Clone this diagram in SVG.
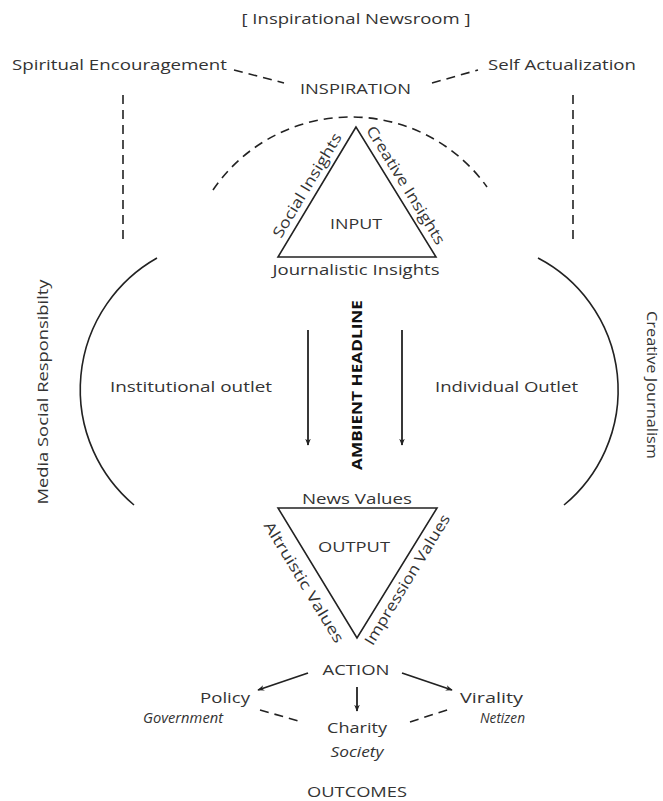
<svg xmlns="http://www.w3.org/2000/svg" width="663" height="801" viewBox="0 0 663 801">
<style>
text{font-family:"Open Sans","Noto Sans","Liberation Sans",sans-serif;fill:#333;font-size:15px}
.m{text-anchor:middle}
.it{font-style:italic}
.b{font-weight:bold;fill:#111}
.ln{stroke:#222;stroke-width:1.6;fill:none}
.dash{stroke:#222;stroke-width:1.6;fill:none;stroke-dasharray:9 6}
.arr{stroke:#222;stroke-width:1.8;fill:none;marker-end:url(#ah)}
</style>
<defs>
<marker id="ah" viewBox="0 0 10 10" refX="9" refY="5" markerWidth="7" markerHeight="7" orient="auto" markerUnits="userSpaceOnUse">
<path d="M0,1 L10,5 L0,9 L3,5 Z" fill="#222"/>
</marker>
</defs>
<rect width="663" height="801" fill="#fff"/>
<g id="title"><text class="m" x="356" y="24" textLength="229" lengthAdjust="spacingAndGlyphs">[ Inspirational Newsroom ]</text></g>
<g id="spiritual"><text x="12" y="70" font-size="17" textLength="215" lengthAdjust="spacingAndGlyphs">Spiritual Encouragement</text></g>
<g id="selfact"><text x="488" y="70" font-size="17" textLength="148" lengthAdjust="spacingAndGlyphs">Self Actualization</text></g>
<g id="inspiration"><text x="300" y="94" font-size="16" textLength="111" lengthAdjust="spacingAndGlyphs">INSPIRATION</text></g>
<g id="input">
<polygon class="ln" points="356,127 278,257 436,257"/>
<text class="m" x="356" y="229" textLength="52" lengthAdjust="spacingAndGlyphs">INPUT</text>
<text class="m" x="356" y="275" textLength="167" lengthAdjust="spacingAndGlyphs">Journalistic Insights</text>
<text class="m" transform="translate(315,190) rotate(-59)" x="0" y="-4" textLength="119" lengthAdjust="spacingAndGlyphs">Social Insights</text>
<text class="m" transform="translate(398,190) rotate(58.4)" x="0" y="-4" textLength="136" lengthAdjust="spacingAndGlyphs">Creative Insights</text>
</g>
<g id="msr"><text class="m" transform="translate(48,392) rotate(-90)" x="0" y="0" font-size="16" textLength="225" lengthAdjust="spacingAndGlyphs">Media Social Responsibilty</text></g>
<g id="cj"><text class="m" transform="translate(647,385) rotate(90)" x="0" y="0" font-size="15" textLength="148" lengthAdjust="spacingAndGlyphs">Creative Journalism</text></g>
<g id="institutional"><text x="110" y="392" textLength="162" lengthAdjust="spacingAndGlyphs">Institutional outlet</text></g>
<g id="individual"><text x="435" y="392" textLength="143" lengthAdjust="spacingAndGlyphs">Individual Outlet</text></g>
<g id="ambient"><text class="m b" transform="translate(362,385) rotate(-90)" x="0" y="0" textLength="170" lengthAdjust="spacingAndGlyphs">AMBIENT HEADLINE</text></g>
<g id="output">
<polygon class="ln" points="278,508 437,508 357,638"/>
<text class="m" x="357" y="504" textLength="110" lengthAdjust="spacingAndGlyphs">News Values</text>
<text class="m" x="354" y="552" textLength="72" lengthAdjust="spacingAndGlyphs">OUTPUT</text>
<text class="m" transform="translate(314,576) rotate(58.7)" x="0" y="17" textLength="139" lengthAdjust="spacingAndGlyphs">Altruistic Values</text>
<text class="m" transform="translate(398,574) rotate(-58.7)" x="0" y="16" textLength="150" lengthAdjust="spacingAndGlyphs">Impression Values</text>
</g>
<g id="action"><text class="m" x="356" y="675" textLength="67" lengthAdjust="spacingAndGlyphs">ACTION</text></g>
<g id="policy">
<text x="200" y="703" textLength="50" lengthAdjust="spacingAndGlyphs">Policy</text>
<text class="it" x="143" y="723" font-size="14" textLength="80" lengthAdjust="spacingAndGlyphs">Government</text>
</g>
<g id="charity">
<text class="m" x="357" y="733" textLength="60" lengthAdjust="spacingAndGlyphs">Charity</text>
<text class="m it" x="357" y="757" font-size="12" textLength="53" lengthAdjust="spacingAndGlyphs">Society</text>
</g>
<g id="virality">
<text x="460" y="703" textLength="63" lengthAdjust="spacingAndGlyphs">Virality</text>
<text class="it" x="480" y="723" font-size="14" textLength="45" lengthAdjust="spacingAndGlyphs">Netizen</text>
</g>
<g id="outcomes"><text class="m" x="357" y="797" textLength="100" lengthAdjust="spacingAndGlyphs">OUTCOMES</text></g>
<g id="connectors">
<path class="dash" d="M234,70 L284,83" stroke-dasharray="14 5"/>
<path class="dash" d="M432,83 L478,70" stroke-dasharray="14 5"/>
<path class="dash" d="M123,95 L123,245"/>
<path class="dash" d="M573,95 L573,245"/>
<path class="dash" d="M213,190 A167,167 0 0 1 487,187" stroke-dasharray="8 5"/>
<path class="ln" d="M157,258 A151,151 0 0 0 134,505"/>
<path class="ln" d="M538,258 A149,149 0 0 1 564,505"/>
<path class="arr" d="M308,330 L308,445"/>
<path class="arr" d="M402,330 L402,445"/>
<path class="arr" d="M308,673 L258,690"/>
<path class="arr" d="M402,673 L452,690"/>
<path class="arr" d="M357,687 L357,711"/>
<path class="dash" d="M260,710 L302,722"/>
<path class="dash" d="M410,722 L450,709"/>
</g>
</svg>
